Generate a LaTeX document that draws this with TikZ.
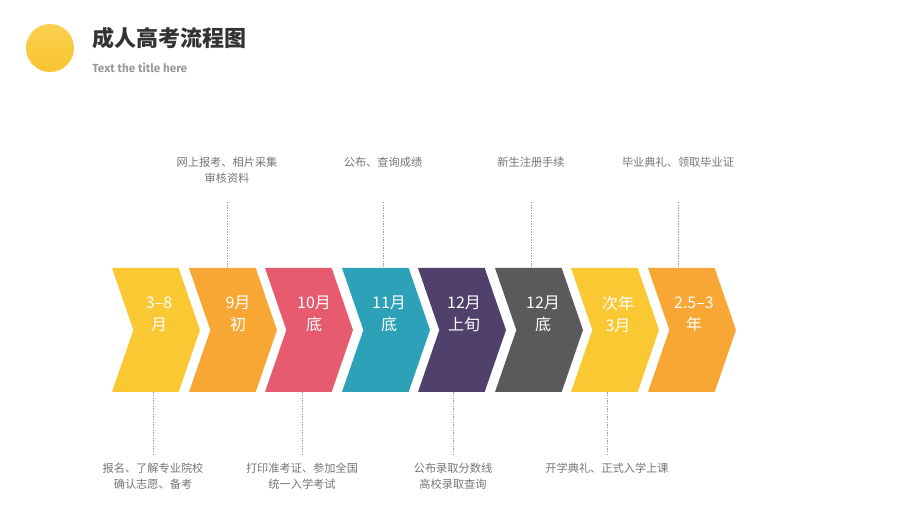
\documentclass[tikz,border=0pt]{standalone}
\usepackage{fontspec}
\setmainfont{Noto Sans CJK SC}
\newfontfamily\latinsans{Fira Sans}
\usetikzlibrary{shapes.symbols}
\definecolor{cyellow}{RGB}{249,200,50}
\definecolor{corange}{RGB}{248,166,52}
\definecolor{cpink}{RGB}{231,91,110}
\definecolor{cteal}{RGB}{45,161,183}
\definecolor{cpurple}{RGB}{79,65,107}
\definecolor{cgray}{RGB}{90,90,92}
\definecolor{ctitle}{RGB}{51,51,51}
\definecolor{cnote}{RGB}{118,118,118}

\begin{document}
\begin{tikzpicture}[x=0.75pt,y=-0.75pt]
	\tikzset{chev/.style={signal,signal to=east,signal from=west,signal pointer angle=142,
			minimum width=66pt,minimum height=93pt,inner sep=0pt}}
	\tikzset{date/.style={text=white,align=center,inner sep=0pt,font=\fontsize{12}{16.5}\selectfont}}
	\tikzset{note/.style={text=cnote,align=center,inner sep=1pt,font=\fontsize{8.4}{12}\selectfont}}
	\tikzset{guide/.style={cnote!70,line width=0.4pt,dash pattern=on 1pt off 1pt}}
	
	\useasboundingbox[fill=white] (0,0) rectangle (901,509);
	
	% header
	\node(dot) at (50,48) [circle,minimum size=36pt,inner sep=0pt,top color=cyellow!85!white,bottom color=cyellow!95!orange] {};
	\node(title) at (92,38) [anchor=west,inner sep=0pt,text=ctitle,font=\fontsize{16.5}{18}\selectfont\bfseries] {成人高考流程图};
	\node(sub) at (92,68) [anchor=west,inner sep=0pt,text=gray!80,font=\latinsans\fontsize{8.8}{10}\selectfont\bfseries] {Text the title here};
	
	% chevrons
	\node(c1) at (156,330) [chev,fill=cyellow] {};
	\node(c2) at (233,330) [chev,fill=corange] {};
	\node(c3) at (309,330) [chev,fill=cpink] {};
	\node(c4) at (386,330) [chev,fill=cteal] {};
	\node(c5) at (462,330) [chev,fill=cpurple] {};
	\node(c6) at (539,330) [chev,fill=cgray] {};
	\node(c7) at (615,330) [chev,fill=cyellow] {};
	\node(c8) at (692,330) [chev,fill=corange] {};
	
	\node(d1) at (159,314) [date] {3–8\\月};
	\node(d2) at (238,314) [date] {9月\\初};
	\node(d3) at (314,314) [date] {10月\\底};
	\node(d4) at (389,314) [date] {11月\\底};
	\node(d5) at (464,314) [date] {12月\\上旬};
	\node(d6) at (543,314) [date] {12月\\底};
	\node(d7) at (618,314) [date] {次年\\3月};
	\node(d8) at (694,314) [date] {2.5–3\\年};
	
	\coordinate(top) at (0,202);
	\coordinate(bot) at (0,455);
	
	% notes above
	\node(t2) at (227,155) [note,anchor=north] {网上报考、相片采集\\审核资料};
	\node(t4) at (383,155) [note,anchor=north] {公布、查询成绩};
	\node(t6) at (531,155) [note,anchor=north] {新生注册手续};
	\node(t8) at (678,155) [note,anchor=north] {毕业典礼、领取毕业证};
	
	% notes below
	\node(b1) at (153,461) [note,anchor=north] {报名、了解专业院校\\确认志愿、备考};
	\node(b3) at (302,461) [note,anchor=north] {打印准考证、参加全国\\统一入学考试};
	\node(b5) at (453,461) [note,anchor=north] {公布录取分数线\\高校录取查询};
	\node(b7) at (607,461) [note,anchor=north] {开学典礼、正式入学上课};
	
	\draw[guide] (t2 |- top) -- (t2 |- c2.north);
	\draw[guide] (t4 |- top) -- (t4 |- c4.north);
	\draw[guide] (t6 |- top) -- (t6 |- c6.north);
	\draw[guide] (t8 |- top) -- (t8 |- c8.north);
	
	\draw[guide] (b1 |- c1.south) -- (b1 |- bot);
	\draw[guide] (b3 |- c3.south) -- (b3 |- bot);
	\draw[guide] (b5 |- c5.south) -- (b5 |- bot);
	\draw[guide] (b7 |- c7.south) -- (b7 |- bot);
	
\end{tikzpicture}
\end{document}
